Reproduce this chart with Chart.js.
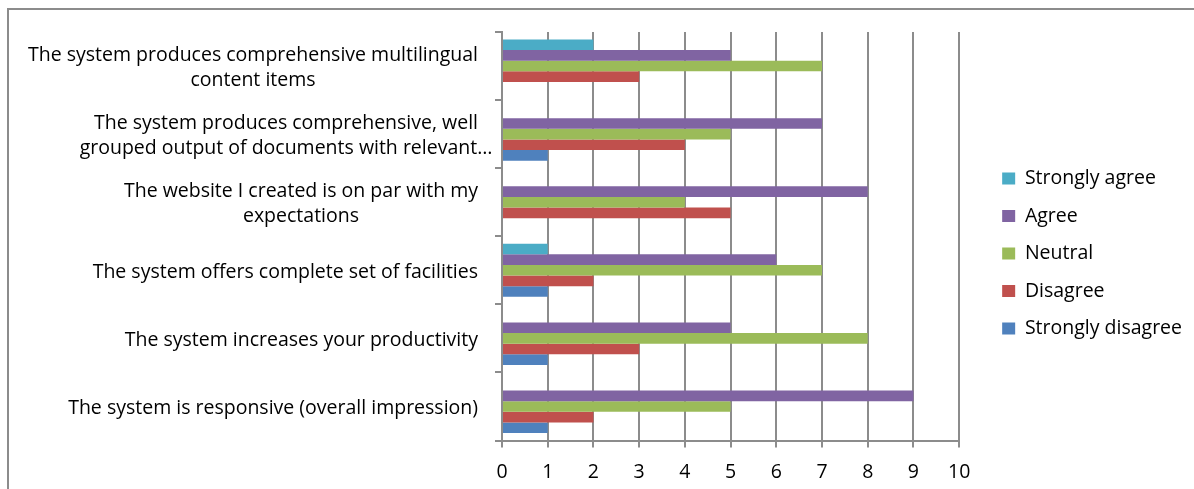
<!DOCTYPE html>
<html>
<head>
<meta charset="utf-8">
<script src="https://cdn.jsdelivr.net/npm/chart.js@4"></script>
<style>
  body { margin: 0; overflow: hidden; background: #fff; }
  #frame { position: absolute; left: 0; top: 0; width: 1194px; height: 489px; }
  #border { position: absolute; left: 7px; top: 8px; width: 1300px; height: 600px;
            border-left: 2px solid #8c8c8c; border-top: 2px solid #8c8c8c; pointer-events: none; }
</style>
</head>
<body>
<div id="frame"><canvas id="myChart" width="1194" height="489"></canvas></div>
<div id="border"></div>
<script>
// categories, top to bottom as shown
const categories = [
    ['The system produces comprehensive multilingual', 'content items'],
    ['The system produces comprehensive, well', 'grouped output of documents with relevant\u2026'],
    ['The website I created is on par with my', 'expectations'],
    ['The system offers complete set of facilities'],
    ['The system increases your productivity'],
    ['The system is responsive (overall impression)']
];

const stronglyAgree    = [2, 0, 0, 1, 0, 0];
const agree            = [5, 7, 8, 6, 5, 9];
const neutral          = [7, 5, 4, 7, 8, 5];
const disagree         = [3, 4, 5, 2, 3, 2];
const stronglyDisagree = [0, 1, 0, 1, 1, 1];

const xTicks = [0, 1, 2, 3, 4, 5, 6, 7, 8, 9, 10];

const fontFamily = "'Open Sans', sans-serif";
const fontSize = 19.5;
const gridColor = '#8c8c8c';

// draws the category labels: lines centred on the first line, first line right aligned
const yLabelPlugin = {
    id: 'yLabels',
    afterDraw(chart) {
        const ctx = chart.ctx;
        const y = chart.scales.y;
        const labelRight = y.right - 24;
        const lineGap = 25;
        ctx.save();
        ctx.font = fontSize + 'px ' + fontFamily;
        ctx.fillStyle = '#000';
        ctx.textAlign = 'center';
        ctx.textBaseline = 'middle';
        categories.forEach((lines, i) => {
            const yc = y.getPixelForValue(i) + 2;
            const xc = labelRight - ctx.measureText(lines[0]).width / 2;
            lines.forEach((line, j) => {
                ctx.fillText(line, xc, yc + (j - (lines.length - 1) / 2) * lineGap);
            });
        });
        ctx.restore();
    }
};

// nudge the legend box so it sits where the original has it
const legendShift = {
    id: 'legendShift',
    afterLayout(chart) {
        const lg = chart.legend;
        lg.left += 25; lg.right += 25;
        lg.top -= 11; lg.bottom -= 11;
    }
};

const series = [
    { label: 'Strongly agree', data: stronglyAgree, color: '#4BACC6' },
    { label: 'Agree', data: agree, color: '#8064A2' },
    { label: 'Neutral', data: neutral, color: '#9BBB59' },
    { label: 'Disagree', data: disagree, color: '#C0504D' },
    { label: 'Strongly disagree', data: stronglyDisagree, color: '#4F81BD' }
];

const ctx = document.getElementById('myChart').getContext('2d');
const chart = new Chart(ctx, {
    type: 'bar',
    data: {
        labels: categories,
        datasets: series.map(s => ({
            label: s.label,
            data: s.data,
            backgroundColor: s.color,
            borderWidth: 0,
            categoryPercentage: 0.78,
            barPercentage: 1
        }))
    },
    options: {
        indexAxis: 'y',
        responsive: false,
        animation: false,
        layout: { padding: { top: 32, left: 0, right: 27, bottom: -8 } },
        scales: {
            x: {
                min: 0,
                max: 10,
                afterBuildTicks: axis => { axis.ticks = xTicks.map(v => ({ value: v })); },
                grid: { color: gridColor, lineWidth: 2, tickLength: 7 },
                border: { color: gridColor, width: 2 },
                ticks: { color: '#000', padding: 15, font: { family: fontFamily, size: fontSize, lineHeight: 1 } }
            },
            y: {
                afterFit: axis => { axis.width = 502; },
                grid: { offset: true, drawOnChartArea: false, color: gridColor, lineWidth: 2, tickLength: 7 },
                border: { color: gridColor, width: 2 },
                ticks: { display: false }
            }
        },
        plugins: {
            legend: {
                position: 'right',
                labels: {
                    boxWidth: 13,
                    boxHeight: 12,
                    padding: 18,
                    color: '#000',
                    font: { family: fontFamily, size: fontSize }
                }
            },
            tooltip: { enabled: false }
        }
    },
    plugins: [yLabelPlugin, legendShift]
});
</script>
</body>
</html>
